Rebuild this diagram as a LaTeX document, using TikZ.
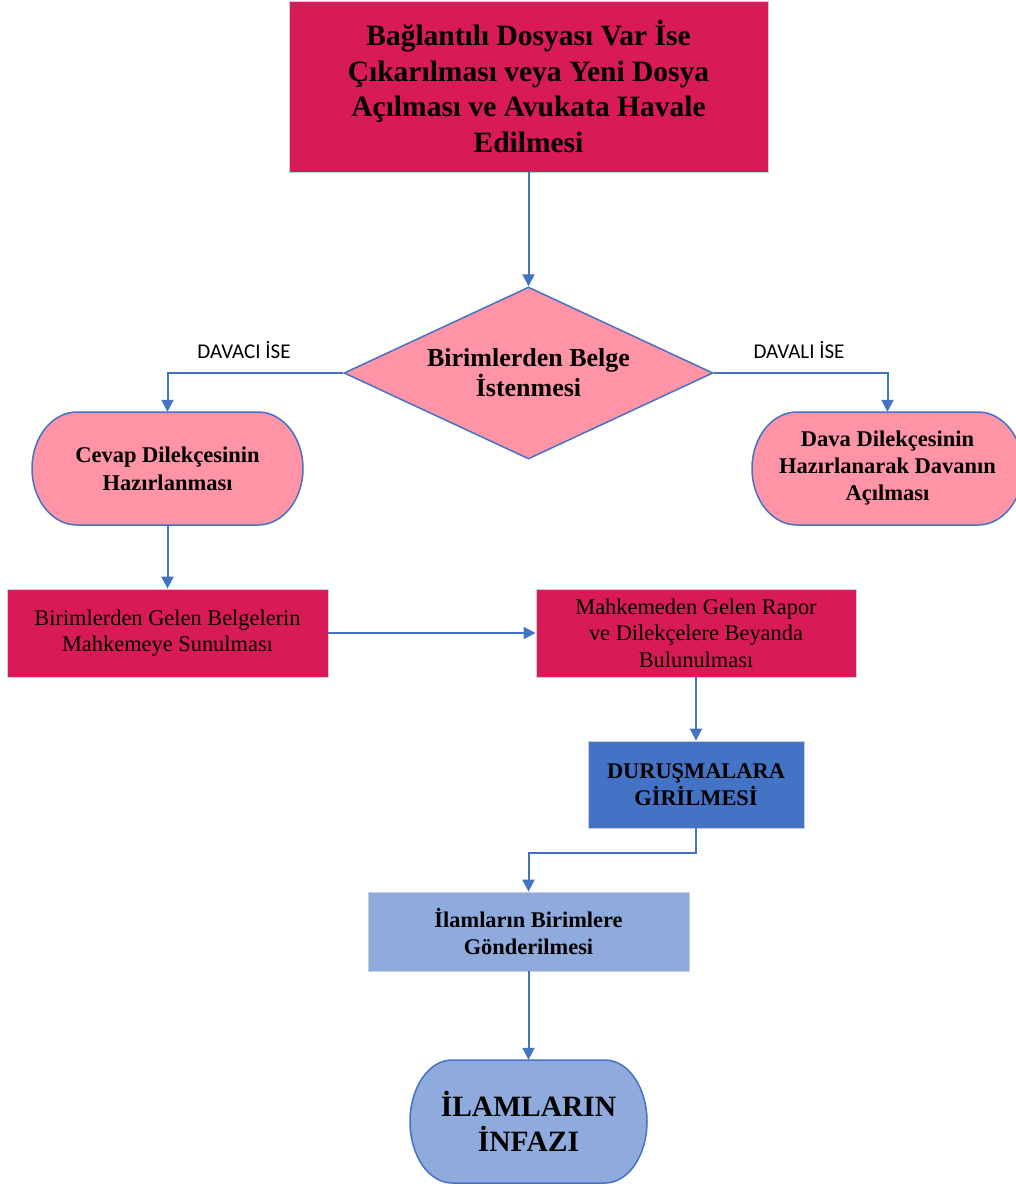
\documentclass[tikz,border=0pt]{standalone}
\usepackage{fontspec}
\setmainfont{Liberation Serif}
\newfontfamily\labelfont{Carlito}
\usetikzlibrary{arrows.meta,shapes.geometric}
\definecolor{crim}{HTML}{D81B56}
\definecolor{pinkf}{HTML}{FF94A6}
\definecolor{bdark}{HTML}{4472C4}
\definecolor{blight}{HTML}{8FAADC}
\definecolor{edgec}{HTML}{C9CCDA}
\begin{document}
\begin{tikzpicture}[x=1pt,y=-1pt,
  rbox/.style={rectangle, inner sep=0pt, align=center, draw=edgec, line width=0.8pt},
  tbox/.style={rectangle, inner sep=0pt, align=center},
  conn/.style={draw=bdark, line width=2pt, -{Triangle[width=12pt,length=12pt]}},
  termshape/.style={fill=#1, draw=bdark, line width=1.5pt},
  lbl/.style={font=\labelfont\fontsize{21}{24}\selectfont, inner sep=0pt}]
\useasboundingbox (0,0) rectangle (1016,1186);

% top box
\node[rbox, fill=crim, minimum width=479pt, minimum height=171pt,
  font=\fontsize{29.5}{35.8}\selectfont\bfseries] (top) at (528.5,86.5)
  {Bağlantılı Dosyası Var İse\\Çıkarılması veya Yeni Dosya\\Açılması ve Avukata Havale\\Edilmesi};

% diamond
\node[diamond, aspect=2.145, fill=pinkf, draw=bdark, line width=1.5pt, inner sep=0pt,
  minimum width=369pt, minimum height=172pt, align=center,
  font=\fontsize{26}{30}\selectfont\bfseries] (dia) at (528.5,373)
  {Birimlerden Belge\\İstenmesi};

% left terminal
\path[termshape=pinkf] (32+45,412) -- (303-45,412)
  arc[start angle=-90,end angle=90,x radius=45,y radius=56.5] -- (32+45,525)
  arc[start angle=90,end angle=270,x radius=45,y radius=56.5] -- cycle;
\node[tbox, minimum width=271pt, minimum height=113pt,
  font=\fontsize{22.5}{28}\selectfont\bfseries] (lt) at (167.5,468.5)
  {Cevap Dilekçesinin\\Hazırlanması};

% right terminal
\path[termshape=pinkf] (752+45,412) -- (1023-45,412)
  arc[start angle=-90,end angle=90,x radius=45,y radius=56.5] -- (752+45,525)
  arc[start angle=90,end angle=270,x radius=45,y radius=56.5] -- cycle;
\node[tbox, minimum width=271pt, minimum height=113pt,
  font=\fontsize{22.5}{27}\selectfont\bfseries] (rt) at (887.5,468.5)
  {Dava Dilekçesinin\\Hazırlanarak Davanın\\Açılması};

% middle boxes
\node[rbox, fill=crim, minimum width=321pt, minimum height=88pt,
  font=\fontsize{22.4}{26.5}\selectfont] (b1) at (167.5,633)
  {Birimlerden Gelen Belgelerin\\Mahkemeye Sunulması};
\node[rbox, fill=crim, minimum width=320pt, minimum height=88pt,
  font=\fontsize{22.4}{26.5}\selectfont] (b2) at (696,633)
  {Mahkemeden Gelen Rapor\\ve Dilekçelere Beyanda\\Bulunulması};

% duruşmalar
\node[rbox, fill=bdark, minimum width=216pt, minimum height=87pt,
  font=\fontsize{22.4}{27}\selectfont\bfseries] (dur) at (696,784.5)
  {DURUŞMALARA\\GİRİLMESİ};

% ilamlar
\node[rbox, fill=blight, minimum width=321pt, minimum height=79pt,
  font=\fontsize{22.4}{27}\selectfont\bfseries] (ilam) at (528.5,931.5)
  {İlamların Birimlere\\Gönderilmesi};

% final terminal
\path[termshape=blight] (410+42,1060) -- (647-42,1060)
  arc[start angle=-90,end angle=90,x radius=42,y radius=61.5] -- (410+42,1183)
  arc[start angle=90,end angle=270,x radius=42,y radius=61.5] -- cycle;
\node[tbox, minimum width=237pt, minimum height=123pt,
  font=\fontsize{29.5}{35}\selectfont\bfseries] (fin) at (528.5,1121.5)
  {İLAMLARIN\\İNFAZI};

% labels
\node[lbl] (l1) at (244,350) {DAVACI İSE};
\node[lbl] (l2) at (799,350) {DAVALI İSE};

% connectors
\draw[conn] (top.south) -- (dia.north);
\draw[conn] (dia.west) -| (lt.north);
\draw[conn] (dia.east) -| (rt.north);
\draw[conn] (lt.south) -- (b1.north);
\draw[conn] (b1.east) -- (b2.west);
\draw[conn] (b2.south) -- (dur.north);
\draw[conn] (dur.south) -- ++(0,25) -| (ilam.north);
\draw[conn] (ilam.south) -- (fin.north);
\end{tikzpicture}
\end{document}
